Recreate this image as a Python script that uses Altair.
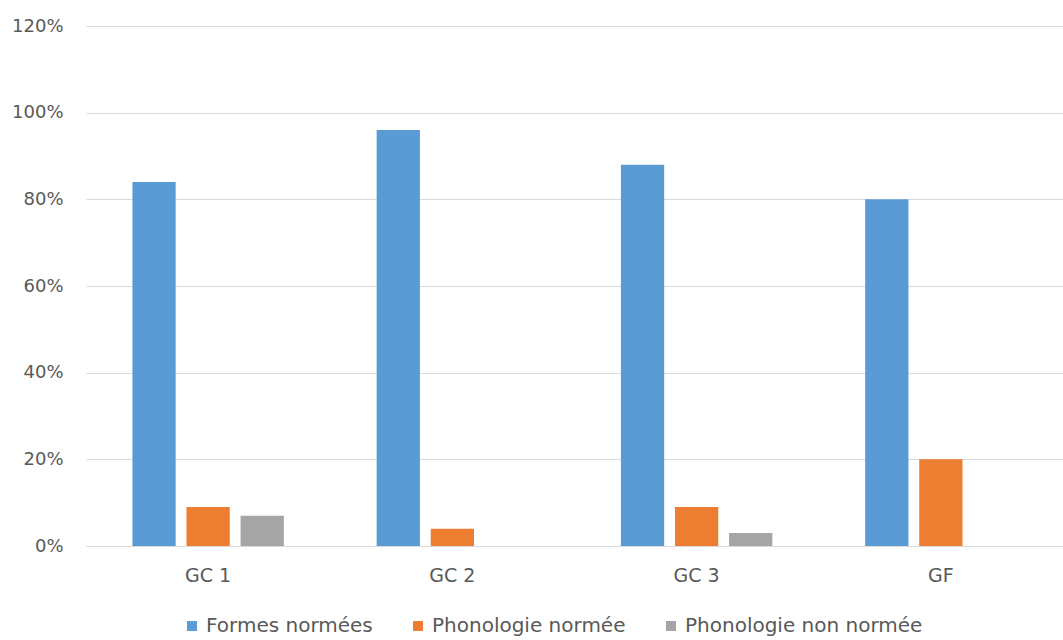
import altair as alt
import pandas as pd

groups = ["GC 1", "GC 2", "GC 3", "GF"]
series = ["Formes normées", "Phonologie normée", "Phonologie non normée"]
formes_normees = [0.84, 0.96, 0.88, 0.80]
phono_normee = [0.09, 0.04, 0.09, 0.20]
phono_non_normee = [0.07, 0.0, 0.03, 0.0]
colors = ["#5B9BD5", "#ED7D31", "#A5A5A5"]

rows = []
for vals, name in zip([formes_normees, phono_normee, phono_non_normee], series):
    for g, v in zip(groups, vals):
        rows.append({"groupe": g, "serie": name, "valeur": v})
df = pd.DataFrame(rows)

font = "DejaVu Sans"
text_color = "#595959"

chart = (
    alt.Chart(df)
    .mark_bar()
    .encode(
        x=alt.X(
            "groupe:N",
            sort=groups,
            title=None,
            scale=alt.Scale(paddingInner=0.38, paddingOuter=0.19),
            axis=alt.Axis(
                labelAngle=0,
                ticks=False,
                grid=False,
                domain=True,
                domainColor="#d9d9d9",
                labelPadding=20,
                labelFontSize=19,
                labelColor=text_color,
                labelFont=font,
            ),
        ),
        xOffset=alt.XOffset(
            "serie:N", sort=series, scale=alt.Scale(paddingInner=0.2, paddingOuter=0)
        ),
        y=alt.Y(
            "valeur:Q",
            title=None,
            scale=alt.Scale(domain=[0, 1.2], nice=False),
            axis=alt.Axis(
                values=[0, 0.2, 0.4, 0.6, 0.8, 1.0, 1.2],
                format=".0%",
                domain=False,
                ticks=False,
                gridColor="#d9d9d9",
                labelPadding=23,
                labelFontSize=18,
                labelColor=text_color,
                labelFont=font,
            ),
        ),
        color=alt.Color(
            "serie:N",
            sort=series,
            scale=alt.Scale(domain=series, range=colors),
            legend=alt.Legend(
                title=None,
                orient="none",
                direction="horizontal",
                legendX=96,
                legendY=590,
                symbolType="square",
                symbolSize=100,
                symbolStrokeWidth=0,
                labelFontSize=20,
                labelLimit=400,
                labelColor=text_color,
                labelFont=font,
                columnPadding=35,
            ),
        ),
    )
    .properties(
        width=977,
        height=520,
        background="white",
        autosize=alt.AutoSizeParams(type="none"),
        padding={"left": 86, "top": 26, "right": 0, "bottom": 94},
    )
    .configure_view(stroke=None, strokeWidth=0)
)

chart.save("out.html", embed_options={"renderer": "svg", "actions": False})
